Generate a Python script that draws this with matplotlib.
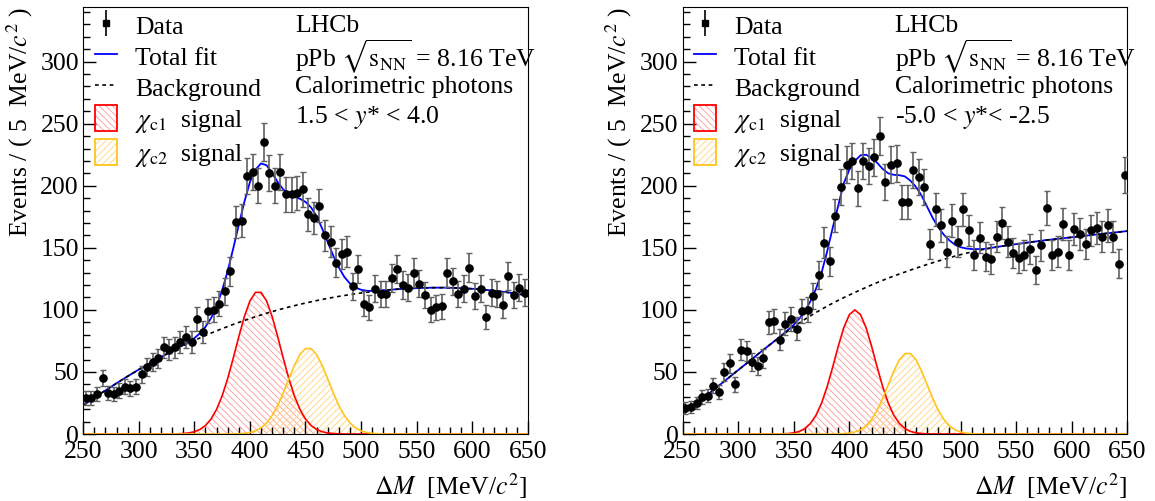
#!/usr/bin/python3

import numpy as np
import matplotlib
matplotlib.use('Agg')
from matplotlib import pyplot as plt
from matplotlib.patches import Patch
from matplotlib.lines import Line2D
from matplotlib.legend_handler import HandlerTuple
from matplotlib.ticker import MultipleLocator

plt.rcParams['font.family'] = ['Liberation Serif', 'DejaVu Serif']
plt.rcParams['mathtext.fontset'] = 'stix'
plt.rcParams['hatch.linewidth'] = 0.6

# 5 MeV bins between 250 and 650, fit curves sampled every 5 MeV
bin_centres = np.arange(252.5, 650, 5)
curve_mass = np.arange(250, 651, 5)

# Forward rapidity 1.5 < y* < 4.0
counts_fwd = [29, 29, 32, 45, 33, 32, 35, 38, 37, 38,
              48, 54, 58, 61, 70, 68, 70, 74, 78, 74,
              93, 82, 99, 100, 105, 115, 131, 171, 172, 208,
              211, 200, 235, 210, 200, 211, 193, 193, 194, 197,
              177, 174, 184, 160, 155, 138, 145, 147, 119, 133,
              105, 102, 117, 113, 113, 126, 133, 120, 118, 130,
              121, 112, 100, 102, 103, 130, 123, 113, 117, 134,
              111, 117, 94, 114, 113, 104, 127, 112, 118, 114]
bkg_fwd = [23.0, 26.1, 29.2, 32.2, 35.1, 38.0, 40.9, 43.7, 46.5, 49.2,
           51.9, 54.5, 57.1, 59.6, 62.0, 64.4, 66.7, 69.0, 71.2, 73.3,
           75.4, 77.4, 79.4, 81.3, 83.1, 84.9, 86.6, 88.3, 89.9, 91.5,
           93.0, 94.5, 95.9, 97.3, 98.6, 99.9, 101.1, 102.3, 103.4, 104.5,
           105.5, 106.5, 107.5, 108.4, 109.3, 110.1, 110.9, 111.6, 112.3, 113.0,
           113.6, 114.2, 114.7, 115.2, 115.7, 116.1, 116.5, 116.8, 117.1, 117.3,
           117.5, 117.7, 117.8, 117.9, 117.9, 117.9, 117.8, 117.7, 117.5, 117.3,
           117.0, 116.7, 116.3, 115.9, 115.4, 114.9, 114.3, 113.7, 113.0, 112.3,
           111.5]
# total fit where it differs from the background, from 335 to 520
total_fwd = [69.2, 71.6, 74.2, 77.2, 81.1, 86.3, 93.3, 102.9, 115.6, 131.3,
             149.5, 168.5, 187, 203, 213, 218, 216.5, 210, 203, 197,
             193, 191, 189.5, 187, 182.5, 175.5, 165.5, 154.6, 143.7, 134.1,
             126.5, 121.2, 118.0, 116.2, 115.4, 115.3, 115.4, 115.8]
chic1_fwd = [0.16, 0.39, 0.87, 1.84, 3.67, 6.86, 12.0, 19.8, 30.7, 44.7,
             61.1, 78.4, 94.6, 107.2, 114.1, 114.1, 107.2, 94.6, 78.4, 61.1,
             44.7, 30.7, 19.8, 12.0, 6.86, 3.67, 1.84, 0.87, 0.39, 0.16]   # from 335
chic2_fwd = [0.09, 0.23, 0.56, 1.24, 2.57, 4.96, 8.9, 14.9, 23.0, 33.2,
             44.4, 55.3, 64.0, 68.9, 68.9, 64.0, 55.3, 44.4, 33.2, 23.0,
             14.9, 8.9, 4.96, 2.57, 1.24, 0.56, 0.23, 0.09]                # from 385

# Backward rapidity -5.0 < y* < -2.5
counts_bwd = [21, 22, 25, 30, 31, 39, 34, 50, 57, 40,
              68, 67, 58, 55, 61, 90, 91, 76, 89, 93,
              85, 99, 100, 111, 128, 154, 139, 176, 199, 217,
              220, 198, 220, 216, 223, 240, 203, 217, 218, 187,
              187, 213, 207, 199, 153, 181, 168, 147, 172, 155,
              181, 164, 144, 158, 143, 141, 159, 170, 155, 146,
              142, 144, 149, 132, 152, 182, 144, 147, 169, 144,
              165, 161, 153, 164, 166, 159, 168, 159, 137, 209]
bkg_bwd = [15.5, 19.1, 22.7, 26.3, 29.9, 33.5, 37.1, 40.7, 44.3, 47.9,
           51.5, 55.1, 58.7, 62.3, 65.9, 69.5, 73.0, 76.5, 79.9, 83.2,
           86.5, 89.5, 92.4, 95.2, 97.9, 100.5, 103.0, 105.4, 107.7, 109.9,
           112.0, 114.1, 116.1, 118.1, 120.1, 122.0, 123.8, 125.6, 127.3, 128.9,
           130.5, 132.1, 133.6, 135.1, 136.6, 138.0, 139.4, 140.7, 142.0, 143.3,
           144.5, 145.6, 146.6, 147.6, 148.6, 149.5, 150.3, 151.0, 151.7, 152.4,
           153.0, 153.6, 154.2, 154.8, 155.4, 156.0, 156.5, 157.0, 157.5, 158.0,
           158.5, 159.0, 159.5, 160.0, 160.5, 161.0, 161.5, 162.0, 162.5, 163.0,
           163.5]
# from 340 to 520
total_bwd = [80.2, 84.0, 88.0, 93.0, 99.0, 107.0, 117.0, 130.0, 147.0, 166.0,
             184.0, 202.0, 213.0, 220.0, 224.5, 225.0, 222.5, 218.5, 213.5, 210.0,
             208.8, 208.5, 207.5, 204.0, 199.0, 192.0, 183.0, 174.0, 166.5, 160.5,
             156.0, 152.5, 150.5, 149.5, 149.0, 149.0, 149.0]
chic1_bwd = [0.15, 0.39, 0.94, 2.1, 4.4, 8.5, 15.1, 24.9, 38.1, 53.9,
             70.7, 85.7, 96.2, 100, 96.2, 85.7, 70.7, 53.9, 38.1, 24.9,
             15.1, 8.5, 4.4, 2.1, 0.94, 0.39, 0.15]                      # from 340
chic2_bwd = [0.11, 0.30, 0.73, 1.64, 3.43, 6.6, 11.7, 19.1, 28.7, 39.7,
             50.7, 59.8, 64.8, 64.8, 59.8, 50.7, 39.7, 28.7, 19.1, 11.7,
             6.6, 3.43, 1.64, 0.73, 0.30, 0.11]                           # from 390

RED_HATCH = '#ff9a9a'
ORANGE_HATCH = '#ffd27a'


def on_grid(values, start, base=None):
    """put a partial curve onto the full 5 MeV grid"""
    out = np.zeros(len(curve_mass)) if base is None else np.array(base, float)
    i0 = int(round((start - 250) / 5))
    out[i0:i0 + len(values)] = values
    return out


def draw_panel(ax, counts, bkg, total, total_start, c1, c1_start, c2, c2_start, ytext):
    counts = np.array(counts, float)
    bkg = np.array(bkg, float)
    total = on_grid(total, total_start, base=bkg)
    sig1 = on_grid(c1, c1_start)
    sig2 = on_grid(c2, c2_start)

    ax.fill_between(curve_mass, sig1, facecolor='none', edgecolor=RED_HATCH,
                    hatch='\\\\\\\\\\', linewidth=0)
    ax.plot(curve_mass, sig1, color='#ff0000', lw=1.2)
    ax.fill_between(curve_mass, sig2, facecolor='none', edgecolor=ORANGE_HATCH,
                    hatch='/////', linewidth=0)
    ax.plot(curve_mass, sig2, color='#ffc41f', lw=1.2)
    ax.plot(curve_mass, total, color='#0000ff', lw=1.3)
    ax.plot(curve_mass, bkg, color='black', lw=1.2, ls=(0, (2.2, 2.2)))

    eb = ax.errorbar(bin_centres, counts, yerr=np.sqrt(counts), fmt='o', color='black',
                     ms=5.2, ecolor='#606060', elinewidth=1.2, capsize=2, capthick=1, zorder=5)
    for cap in eb[1]:
        cap.set_color('black')

    ax.set_xlim(250, 650)
    ax.set_ylim(0, 344)
    ax.xaxis.set_major_locator(MultipleLocator(50))
    ax.xaxis.set_minor_locator(MultipleLocator(10))
    ax.yaxis.set_major_locator(MultipleLocator(50))
    ax.yaxis.set_minor_locator(MultipleLocator(10))
    ax.tick_params(which='both', direction='in', top=False, right=False, labelsize=18.5)
    ax.tick_params(which='major', length=9.5, width=1)
    ax.tick_params(which='minor', length=5, width=1)
    ax.tick_params(axis='x', which='major', pad=5)
    ax.tick_params(axis='y', which='major', pad=3)
    ax.set_xlabel(r'$\Delta M$  [MeV/$c^2$]', fontsize=18.5, loc='right', labelpad=6)
    ax.set_ylabel(r'Events / ( 5  MeV/$c^2$ )', fontsize=18.5, loc='top', labelpad=4)

    # legend in ROOT style
    data_h = (Line2D([], [], marker='s', color='black', ms=5, ls=''),
              Line2D([], [], marker='|', color='black', ms=19, mew=1.2, ls=''))
    fit_h = Line2D([], [], color='#0000ff', lw=1.3)
    bkg_h = Line2D([], [], color='black', lw=1.2, ls=(0, (2.2, 2.2)))
    c1_h = (Patch(facecolor='none', edgecolor=RED_HATCH, hatch='\\\\\\\\\\', lw=0),
            Patch(facecolor='none', edgecolor='#ff0000', lw=1.3))
    c2_h = (Patch(facecolor='none', edgecolor=ORANGE_HATCH, hatch='/////', lw=0),
            Patch(facecolor='none', edgecolor='#ffc41f', lw=1.3))
    ax.legend([data_h, fit_h, bkg_h, c1_h, c2_h],
              ['Data', 'Total fit', 'Background',
               r'$\chi_{\mathrm{c1}}$  signal', r'$\chi_{\mathrm{c2}}$  signal'],
              loc='upper left', bbox_to_anchor=(0.015, 1.0), frameon=False, fontsize=18.5,
              handlelength=0.85, handleheight=1.15, handletextpad=0.7, labelspacing=0.18,
              borderaxespad=0, borderpad=0.2,
              handler_map={tuple: HandlerTuple(ndivide=1, pad=0)})

    lines = ['LHCb', r'pPb $\sqrt{\mathrm{s}_{\mathrm{NN}}}$ = 8.16 TeV',
             'Calorimetric photons', ytext]
    for i, txt in enumerate(lines):
        ax.text(0.477, 0.955 - 0.0715 * i, txt, transform=ax.transAxes,
                fontsize=18.5, va='center', ha='left')


fig = plt.figure(figsize=(11.55, 5.01), dpi=100)
ax1 = fig.add_axes([0.0720, 0.1337, 0.3850, 0.8523])
ax2 = fig.add_axes([0.5910, 0.1337, 0.3850, 0.8523])

draw_panel(ax1, counts_fwd, bkg_fwd, total_fwd, 335, chic1_fwd, 335, chic2_fwd, 385,
           r'1.5 < $y$* < 4.0')
draw_panel(ax2, counts_bwd, bkg_bwd, total_bwd, 340, chic1_bwd, 340, chic2_bwd, 390,
           r'-5.0 < $y$*< -2.5')

fig.savefig('out.png', dpi=100)
